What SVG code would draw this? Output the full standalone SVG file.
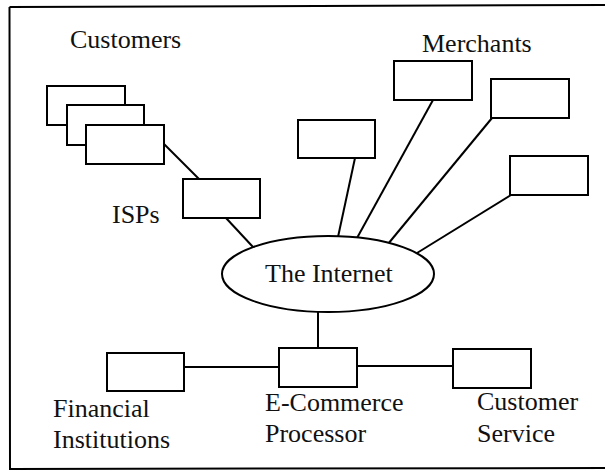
<svg xmlns="http://www.w3.org/2000/svg" width="605" height="471" viewBox="0 0 605 471">
<style>
.box{fill:#fff;stroke:#000;stroke-width:2}
.ln{stroke:#000;stroke-width:2;fill:none}
.t{font-family:'Liberation Serif','Times New Roman',Times,'DejaVu Serif',serif;font-size:26px;fill:#111}
</style>
<rect x="0" y="0" width="605" height="471" fill="#fff"/>
<path class="ln" d="M9.5,7 L605,5 M9.5,7 L10,469 L605,468"/>
<g id="connectors">
<line class="ln" x1="164" y1="144" x2="199" y2="179"/>
<line class="ln" x1="226" y1="218" x2="253" y2="247"/>
<line class="ln" x1="355" y1="158" x2="338" y2="237"/>
<line class="ln" x1="433" y1="100" x2="357" y2="238"/>
<line class="ln" x1="492" y1="118" x2="388" y2="244"/>
<line class="ln" x1="511" y1="195" x2="417" y2="253"/>
<line class="ln" x1="318" y1="312" x2="318" y2="348"/>
<line class="ln" x1="184" y1="367" x2="279" y2="367"/>
<line class="ln" x1="357" y1="366" x2="453" y2="366"/>
</g>
<g id="customers">
<rect class="box" x="47" y="86" width="78" height="39"/>
<rect class="box" x="67" y="105" width="77" height="40"/>
<rect class="box" x="86" y="125" width="78" height="39"/>
<text class="t" x="70" y="48">Customers</text>
</g>
<g id="isp">
<rect class="box" x="183" y="179" width="77" height="39"/>
<text class="t" x="112" y="223">ISPs</text>
</g>
<g id="merchants">
<text class="t" x="422" y="52">Merchants</text>
<rect class="box" x="298" y="120" width="77" height="38"/>
<rect class="box" x="394" y="61" width="78" height="39"/>
<rect class="box" x="491" y="79" width="78" height="39"/>
<rect class="box" x="510" y="156" width="78" height="39"/>
</g>
<g id="internet">
<ellipse class="box" cx="328" cy="274" rx="106" ry="38"/>
<text class="t" x="265" y="282">The Internet</text>
</g>
<g id="financial">
<rect class="box" x="107" y="353" width="77" height="38"/>
<text class="t" x="53" y="417">Financial</text>
<text class="t" x="53" y="448">Institutions</text>
</g>
<g id="ecommerce">
<rect class="box" x="279" y="348" width="78" height="39"/>
<text class="t" x="265" y="411">E-Commerce</text>
<text class="t" x="265" y="442">Processor</text>
</g>
<g id="service">
<rect class="box" x="453" y="349" width="78" height="39"/>
<text class="t" x="477" y="410">Customer</text>
<text class="t" x="477" y="442">Service</text>
</g>
</svg>
